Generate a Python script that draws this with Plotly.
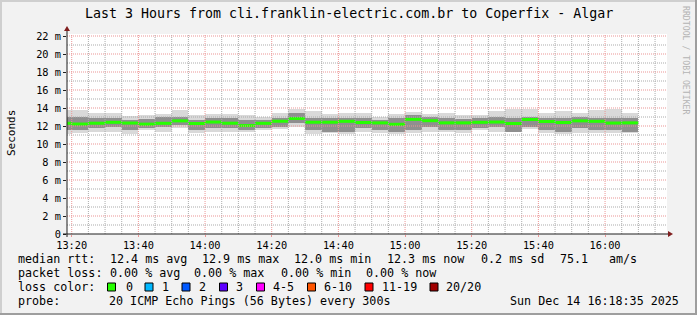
import plotly.graph_objects as go
import pandas as pd

# ---------------- data ----------------
bar_end = ["13:20", "13:25", "13:30", "13:35", "13:40", "13:45", "13:50", "13:55",
           "14:00", "14:05", "14:10", "14:15", "14:20", "14:25", "14:30", "14:35",
           "14:40", "14:45", "14:50", "14:55", "15:00", "15:05", "15:10", "15:15",
           "15:20", "15:25", "15:30", "15:35", "15:40", "15:45", "15:50", "15:55",
           "16:00", "16:05", "16:10"]
median_ms = [12.30, 12.22, 12.31, 12.41, 12.33, 12.21, 12.30, 12.57, 12.28, 12.44,
             12.31, 12.05, 12.30, 12.53, 12.83, 12.42, 12.42, 12.52, 12.39, 12.35,
             12.19, 12.74, 12.59, 12.35, 12.35, 12.41, 12.44, 12.28, 12.72, 12.50,
             12.39, 12.57, 12.52, 12.33, 12.35]
smoke_hi = [13.78, 13.78, 13.41, 13.41, 13.11, 13.22, 13.33, 13.78, 13.22, 13.33,
            13.33, 13.22, 13.03, 13.41, 13.86, 13.67, 13.33, 13.48, 13.48, 13.03,
            13.33, 13.59, 13.33, 13.48, 13.22, 13.22, 13.67, 13.86, 13.86, 13.48,
            13.67, 13.48, 13.78, 13.86, 13.41]
smoke_lo = [11.11, 11.19, 11.30, 11.37, 11.08, 11.56, 11.30, 11.74, 11.19, 11.37,
            11.37, 11.37, 11.56, 11.63, 11.92, 11.08, 11.19, 11.11, 11.37, 11.19,
            11.08, 11.19, 11.37, 11.37, 11.19, 11.56, 11.37, 11.30, 11.63, 11.19,
            11.11, 11.26, 11.26, 11.19, 11.19]
core_hi = [13.03, 13.03, 12.86, 12.86, 12.67, 12.74, 13.03, 13.03, 12.67, 12.86,
           12.86, 12.67, 12.67, 12.86, 13.41, 12.86, 12.86, 12.86, 12.86, 12.67,
           12.86, 13.22, 13.03, 12.86, 12.74, 12.86, 13.03, 12.86, 13.03, 12.86,
           12.86, 13.03, 12.86, 12.86, 12.86]
core_lo = [11.56, 11.56, 11.74, 11.92, 11.56, 11.74, 11.92, 12.11, 11.56, 11.74,
           11.74, 11.56, 11.74, 11.92, 12.30, 11.56, 11.37, 11.37, 11.74, 11.56,
           11.37, 11.56, 11.92, 11.56, 11.56, 11.74, 11.92, 11.37, 11.92, 11.56,
           11.37, 11.74, 11.56, 11.56, 11.37]

x_ticks = ["13:20", "13:40", "14:00", "14:20", "14:40", "15:00", "15:20", "15:40", "16:00"]
y_ticks = [0, 2, 4, 6, 8, 10, 12, 14, 16, 18, 20, 22]

loss_labels = ["0", "1", "2", "3", "4-5", "6-10", "11-19", "20/20"]
loss_colors = ["#26ff00", "#00b8ff", "#0059ff", "#5e00ff", "#ff00ff", "#ff5500", "#ff0000", "#a10000"]

title = "Last 3 Hours from cli.franklin-electric.com.br to Coperfix - Algar"
stats_rtt = ["12.4 ms avg", "12.9 ms max", "12.0 ms min", "12.3 ms now", "0.2 ms sd", "75.1", "am/s"]
stats_loss = ["0.00 % avg", "0.00 % max", "0.00 % min", "0.00 % now"]
probe_text = "20 ICMP Echo Pings (56 Bytes) every 300s"
stamp_text = "Sun Dec 14 16:18:35 2025"

DAY = "2025-12-14 "
x_start = DAY + "13:18:35"
x_stop = DAY + "16:18:35"

# ---------------- layout geometry ----------------
FW, FH = 697, 315
L, R, T, B = 67, 667, 34, 234
W, H = R - L, B - T
MONO = "DejaVu Sans Mono"

def px(xp):
    return (xp - L) / W

def py(yp):
    return (B - yp) / H

ends = [pd.Timestamp(DAY + t) for t in bar_end]
STEP = 300000  # 5 min in ms

fig = go.Figure()
fig.add_bar(x=ends, y=[h - l for h, l in zip(smoke_hi, smoke_lo)], base=smoke_lo,
            width=STEP, offset=-STEP, marker=dict(color="#d9d9d9", line_width=0),
            hoverinfo="skip")
fig.add_bar(x=ends, y=[h - l for h, l in zip(core_hi, core_lo)], base=core_lo,
            width=STEP, offset=-STEP, marker=dict(color="#8f8f8f", line_width=0),
            hoverinfo="skip")

mx, my = [], []
for e, m in zip(ends, median_ms):
    mx += [e - pd.Timedelta(minutes=5), e, None]
    my += [m, m, None]
fig.add_scatter(x=mx, y=my, mode="lines", line=dict(color=loss_colors[0], width=3),
                hoverinfo="skip")

shapes = []
# grid (drawn above the data like rrdtool)
g = pd.Timestamp(DAY + "13:20")
while g <= pd.Timestamp(x_stop):
    major = g.strftime("%H:%M") in x_ticks
    shapes.append(dict(type="line", xref="x", yref="paper", x0=g, x1=g, y0=0, y1=1,
                       layer="above",
                       line=dict(color="#eb9595" if major else "#ababab", width=1, dash="1px,1px")))
    g += pd.Timedelta(minutes=5)
for v in range(1, 23):
    major = v % 2 == 0
    shapes.append(dict(type="line", xref="paper", yref="y", x0=0, x1=1, y0=v, y1=v,
                       layer="above",
                       line=dict(color="#eb9595" if major else "#ababab", width=1, dash="1px,1px")))
# axes + arrows
AX = "#1f1f1f"
ARROW = "#801f1f"
shapes.append(dict(type="line", xref="paper", yref="paper", x0=px(63), x1=px(670),
                   y0=py(B), y1=py(B), line=dict(color=AX, width=1), layer="above"))
shapes.append(dict(type="line", xref="paper", yref="paper", x0=px(L), x1=px(L),
                   y0=py(B + 3), y1=py(29), line=dict(color=AX, width=1), layer="above"))
shapes.append(dict(type="path", xref="paper", yref="paper", layer="above",
                   path=f"M {px(668)} {py(B-3)} L {px(673)} {py(B)} L {px(668)} {py(B+3)} Z",
                   fillcolor=ARROW, line=dict(width=0)))
shapes.append(dict(type="path", xref="paper", yref="paper", layer="above",
                   path=f"M {px(L-3)} {py(31)} L {px(L)} {py(26)} L {px(L+3)} {py(31)} Z",
                   fillcolor=ARROW, line=dict(width=0)))
# 3D frame
shapes.append(dict(type="line", xref="paper", yref="paper", x0=px(0), x1=px(FW),
                   y0=py(1), y1=py(1), line=dict(color="#cfcfcf", width=2)))
shapes.append(dict(type="line", xref="paper", yref="paper", x0=px(1), x1=px(1),
                   y0=py(0), y1=py(FH), line=dict(color="#cfcfcf", width=2)))
shapes.append(dict(type="line", xref="paper", yref="paper", x0=px(0), x1=px(FW),
                   y0=py(FH - 1), y1=py(FH - 1), line=dict(color="#9e9e9e", width=2)))
shapes.append(dict(type="line", xref="paper", yref="paper", x0=px(FW - 1), x1=px(FW - 1),
                   y0=py(0), y1=py(FH), line=dict(color="#9e9e9e", width=2)))

# loss colour boxes
box_x = [107.5, 145, 182, 219.5, 256.5, 307.5, 365, 430]
text_x = [123.6, 160, 197, 234, 271, 322, 380, 444.4]
for bx, c in zip(box_x, loss_colors):
    shapes.append(dict(type="rect", xref="paper", yref="paper",
                       x0=px(bx), x1=px(bx + 8), y0=py(283), y1=py(291),
                       fillcolor=c, line=dict(color="#000000", width=1)))

ann = []
def text(s, x, y, size=11.7, color="#000000", anchor="left", angle=0):
    ann.append(dict(text=s, x=px(x), y=py(y), xref="paper", yref="paper",
                    xanchor=anchor, yanchor="middle", showarrow=False, textangle=angle,
                    font=dict(family=MONO, size=size, color=color)))

text(title, 348.5, 13.5, size=13.3, anchor="center")
text("Seconds", 11, 133, size=11, anchor="center", angle=-90)
text("RRDTOOL / TOBI OETIKER", 686, 60, size=8.2, color="#b4b4b4", anchor="center", angle=90)

row = [259, 273, 287, 301]
text("median rtt:", 16.4, row[0])
for s, x in zip(stats_rtt, [107.6, 200, 292.4, 385, 479, 557.8, 607]):
    text(s, x, row[0])
text("packet loss:", 16.4, row[1])
for s, x in zip(stats_loss, [107.6, 192.4, 279, 364.4]):
    text(s, x, row[1])
text("loss color:", 16.4, row[2])
for s, x in zip(loss_labels, text_x):
    text(s, x, row[2])
text("probe:", 16.4, row[3])
text(probe_text, 106.7, row[3])
text(stamp_text, 681, row[3], anchor="right")

fig.update_layout(
    width=FW, height=FH, margin=dict(l=L, r=FW - R, t=T, b=FH - B),
    paper_bgcolor="#f2f2f2", plot_bgcolor="#ffffff", showlegend=False,
    barmode="overlay", bargap=0, shapes=shapes, annotations=ann,
    xaxis=dict(type="date", range=[x_start, x_stop], showgrid=False, zeroline=False,
               showline=False, tickvals=[DAY + t for t in x_ticks], ticktext=x_ticks,
               ticks="outside", ticklen=2, tickcolor="#eb9595",
               tickfont=dict(family=MONO, size=10.3, color="#000000")),
    yaxis=dict(range=[0, 200 / 9], showgrid=False, zeroline=False, showline=False,
               tickvals=y_ticks, ticktext=[("%d m" % v) if v else "0" for v in y_ticks],
               ticks="outside", ticklen=3, tickcolor="#1f1f1f",
               tickfont=dict(family=MONO, size=10.3, color="#000000")),
)

fig.write_html("out.html")
